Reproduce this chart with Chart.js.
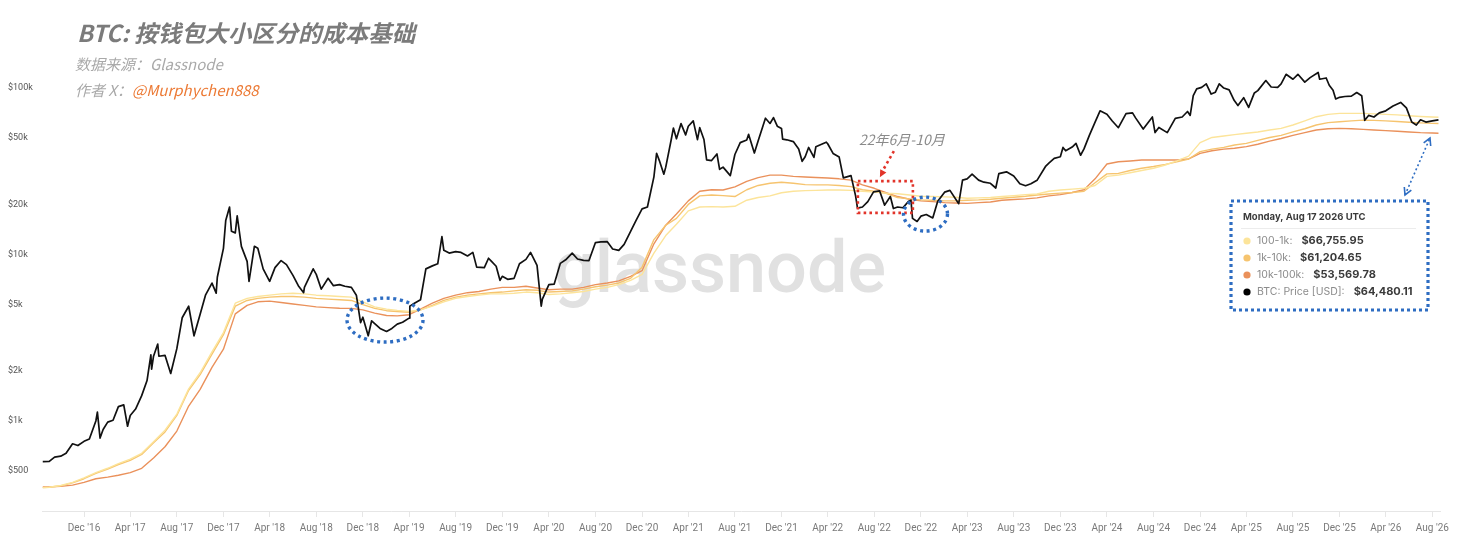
<!DOCTYPE html>
<html><head><meta charset="utf-8">
<script src="https://cdn.jsdelivr.net/npm/chart.js@4.4.1/dist/chart.umd.min.js"></script>
<style>html,body{margin:0;padding:0;background:#fff;overflow:hidden}</style>
</head><body>
<canvas id="c" width="1466" height="555"></canvas>
<script>
// ---------- DATA ----------
const btcDates = ['2016-08-15','2016-09-01','2016-09-15','2016-10-01','2016-10-15','2016-11-01','2016-11-15','2016-12-01','2016-12-15',
'2017-01-01','2017-01-05','2017-01-12','2017-01-20','2017-02-01','2017-02-15','2017-03-01','2017-03-15','2017-03-25','2017-04-01','2017-04-15','2017-05-01','2017-05-15','2017-05-25','2017-05-27','2017-06-01','2017-06-12','2017-06-15','2017-07-01','2017-07-16','2017-08-01','2017-08-15','2017-09-01','2017-09-15','2017-10-01','2017-10-15','2017-11-01','2017-11-12','2017-11-15','2017-12-01','2017-12-07','2017-12-17','2017-12-22',
'2018-01-01','2018-01-06','2018-01-17','2018-02-01','2018-02-06','2018-02-20','2018-03-01','2018-03-15','2018-04-01','2018-04-15','2018-05-01','2018-05-15','2018-06-01','2018-06-15','2018-06-29','2018-07-01','2018-07-24','2018-08-01','2018-08-14','2018-09-01','2018-09-15','2018-10-01','2018-10-15','2018-11-01','2018-11-14','2018-11-25','2018-12-01','2018-12-15','2018-12-24',
'2019-01-01','2019-01-15','2019-02-01','2019-02-15','2019-03-01','2019-03-15','2019-04-01','2019-04-03','2019-04-15','2019-05-01','2019-05-15','2019-06-01','2019-06-15','2019-06-26','2019-07-01','2019-07-15','2019-08-01','2019-08-15','2019-09-01','2019-09-15','2019-09-25','2019-10-15','2019-10-26','2019-11-01','2019-11-15','2019-11-25','2019-12-01','2019-12-15',
'2020-01-01','2020-01-15','2020-02-01','2020-02-13','2020-03-01','2020-03-12','2020-03-15','2020-04-01','2020-04-15','2020-05-01','2020-05-15','2020-06-01','2020-06-15','2020-07-01','2020-07-15','2020-08-01','2020-08-15','2020-09-01','2020-09-15','2020-10-01','2020-10-15','2020-11-01','2020-11-15','2020-12-01','2020-12-15',
'2021-01-01','2021-01-08','2021-01-15','2021-01-27','2021-02-01','2021-02-15','2021-02-21','2021-03-01','2021-03-13','2021-03-25','2021-04-01','2021-04-14','2021-04-25','2021-05-01','2021-05-12','2021-05-19','2021-06-01','2021-06-15','2021-06-22','2021-07-01','2021-07-20','2021-08-01','2021-08-15','2021-09-01','2021-09-06','2021-09-21','2021-10-01','2021-10-20','2021-11-01','2021-11-10','2021-11-20','2021-12-01','2021-12-04','2021-12-15',
'2022-01-01','2022-01-15','2022-01-24','2022-02-01','2022-02-10','2022-02-24','2022-03-01','2022-03-28','2022-04-01','2022-04-15','2022-05-01','2022-05-12','2022-06-01','2022-06-13','2022-06-18','2022-07-01','2022-07-15','2022-07-30','2022-08-15','2022-08-28','2022-09-12','2022-09-20','2022-10-01','2022-10-15','2022-10-29','2022-11-05','2022-11-09','2022-11-21','2022-12-01','2022-12-15',
'2023-01-01','2023-01-14','2023-02-01','2023-02-15','2023-03-10','2023-03-20','2023-04-01','2023-04-14','2023-05-01','2023-05-15','2023-06-01','2023-06-15','2023-06-23','2023-07-13','2023-08-01','2023-08-17','2023-09-01','2023-09-15','2023-10-01','2023-10-24','2023-11-01','2023-11-15','2023-12-01','2023-12-08','2023-12-15',
'2024-01-01','2024-01-11','2024-01-23','2024-02-01','2024-02-15','2024-03-01','2024-03-14','2024-04-01','2024-04-15','2024-05-01','2024-05-21','2024-06-07','2024-06-15','2024-07-05','2024-07-29','2024-08-05','2024-08-15','2024-09-06','2024-09-27','2024-10-15','2024-10-29','2024-11-05','2024-11-13','2024-11-22','2024-12-05','2024-12-17','2024-12-30',
'2025-01-10','2025-01-20','2025-02-01','2025-02-15','2025-02-28','2025-03-10','2025-03-25','2025-04-07','2025-04-22','2025-05-01','2025-05-22','2025-06-05','2025-06-22','2025-07-01','2025-07-14','2025-08-01','2025-08-14','2025-09-01','2025-09-15','2025-10-06','2025-10-10','2025-10-27','2025-11-04','2025-11-14','2025-11-21','2025-12-01','2025-12-15',
'2026-01-01','2026-01-15','2026-01-28','2026-02-05','2026-02-15','2026-03-01','2026-03-15','2026-04-01','2026-04-20','2026-05-10','2026-05-25','2026-06-08','2026-06-20','2026-07-01','2026-07-15','2026-08-01','2026-08-17'];
const btcPrice = [570,572,607,615,640,730,712,755,780,
1000,1130,790,890,985,1010,1220,1250,930,1080,1180,1420,1750,2500,2050,2450,2900,2450,2480,1930,2720,4170,4890,3250,4380,5700,6740,5860,7300,10900,16000,19300,13800,
13500,17100,11200,9100,6900,11200,10900,8200,6900,8350,9200,8700,7500,6500,5900,6350,8200,7600,6200,7200,6500,6600,6450,6350,5700,3900,4200,3250,4000,
3850,3600,3450,3600,3820,3920,4150,4900,5100,5350,8200,8550,8800,12800,10600,10200,10400,10300,9800,10300,8400,8350,9500,9200,8500,7000,7400,7100,
7200,8800,9350,10300,8600,4900,5400,6600,6650,8850,9300,10200,9400,9230,9200,11800,11900,11950,10800,10600,11500,13800,16000,18800,19300,
29300,40600,36800,30400,33500,48600,57500,49600,61200,52300,59000,63500,49000,57800,49100,37000,36700,40200,32500,33500,29800,39900,47000,48800,52700,40700,48200,65900,61300,66500,59000,57200,49300,48900,
47700,43100,36300,38700,44000,38300,44400,47300,46300,40500,38500,28900,29800,22500,19000,19300,20800,23800,24100,19800,22300,18900,19300,19100,20800,21200,16500,15800,17000,17400,
16600,20900,23700,24300,20200,28000,28500,30400,28000,27200,26800,25100,30600,31400,29600,26600,25900,26600,27900,34000,35400,37800,38700,44000,42000,
44200,46500,39500,43100,52000,62400,73000,69700,63400,57800,70200,71000,66200,56700,67000,54000,58000,54000,65800,67000,72300,68500,90000,98900,101000,106000,92000,
94500,106000,100000,97500,84400,78600,87500,76500,93500,96500,111000,101500,101000,106000,121000,113000,121000,108500,115500,124000,113000,115000,104000,97000,86000,88000,89000,
89500,94000,90000,64000,68500,67000,71000,73000,78000,82000,76000,62500,60000,64500,62500,63500,64480.11];

const cbDates = ['2016-08-15','2016-09','2016-10','2016-11','2016-12',
'2017-01','2017-02','2017-03','2017-04','2017-05','2017-06','2017-07','2017-08','2017-09','2017-10','2017-11','2017-12',
'2018-01','2018-02','2018-03','2018-04','2018-05','2018-06','2018-07','2018-08','2018-09','2018-10','2018-11','2018-12',
'2019-01','2019-02','2019-03','2019-04','2019-05','2019-06','2019-07','2019-08','2019-09','2019-10','2019-11','2019-12',
'2020-01','2020-02','2020-03','2020-04','2020-05','2020-06','2020-07','2020-08','2020-09','2020-10','2020-11','2020-12',
'2021-01','2021-02','2021-03','2021-04','2021-05','2021-06','2021-07','2021-08','2021-09','2021-10','2021-11','2021-12',
'2022-01','2022-02','2022-03','2022-04','2022-05','2022-06','2022-07','2022-08','2022-09','2022-10','2022-11','2022-12',
'2023-01','2023-02','2023-03','2023-04','2023-05','2023-06','2023-07','2023-08','2023-09','2023-10','2023-11','2023-12',
'2024-01','2024-02','2024-03','2024-04','2024-05','2024-06','2024-07','2024-08','2024-09','2024-10','2024-11','2024-12',
'2025-01','2025-02','2025-03','2025-04','2025-05','2025-06','2025-07','2025-08','2025-09','2025-10','2025-11','2025-12',
'2026-01','2026-02','2026-03','2026-04','2026-05','2026-06','2026-07','2026-08','2026-08-17'];
const cb100to1k = [398,400,410,428,455,
490,520,555,590,640,750,880,1100,1560,1950,2600,3400,
5100,5450,5600,5700,5800,5850,5800,5700,5650,5600,5550,5200,
4850,4700,4620,4550,4650,4900,5200,5450,5600,5700,5800,5800,
5850,5950,5900,5750,5800,5900,6000,6200,6350,6600,7000,7600,
10200,13000,15200,18300,19300,19400,19300,19500,21200,22000,22500,23500,
24000,24200,24300,24400,24400,24300,24000,23700,23400,23200,22800,22400,
22300,22200,22100,21800,21900,22000,22300,22600,22900,23100,24000,24400,
24700,25000,26000,29500,30000,31000,32000,33000,34500,36500,39000,47000,
50500,51500,52500,53500,54500,56000,57300,60000,63500,67300,69500,70500,
70500,70500,70000,69500,69000,68200,67500,67000,66755.95];
const cb1kto10k = [398,400,408,425,450,
485,515,548,580,630,740,860,1080,1530,1900,2520,3300,
4900,5300,5450,5550,5600,5600,5550,5450,5400,5350,5300,5000,
4750,4600,4550,4500,4650,4950,5300,5550,5700,5800,5900,5950,
6050,6150,6100,5950,6000,6050,6200,6400,6550,6750,7200,8400,
12300,15000,16500,20000,22500,22800,22600,22300,24500,26000,26800,27200,
26800,26300,26200,26200,26000,25600,24500,24000,23300,22000,21600,21300,
21200,21000,21000,21200,21300,21500,21800,22100,22400,22800,23100,23400,
23600,24000,27000,30500,30700,32000,33000,33800,34800,36000,37500,41500,
43000,44000,45500,46500,48500,50500,52000,54500,57000,60000,62000,62800,
63500,64200,64000,63500,63000,62300,61800,61400,61204.65];
const cb10kto100k = [402,402,405,412,428,
450,460,472,490,520,600,700,870,1230,1550,2100,2700,
4400,4950,5200,5250,5150,5050,4950,4850,4800,4760,4750,4650,
4450,4300,4280,4350,4700,5100,5450,5700,5900,6000,6200,6350,
6350,6450,6300,6150,6200,6200,6350,6600,6750,6950,7400,8000,
11600,15000,17500,21000,24000,24500,24400,25500,27500,29000,30000,30000,
29500,29200,29000,28800,28500,28000,26200,25000,23500,22300,21500,21000,
20800,20500,20400,20300,20500,20700,21200,21400,21600,21900,22500,22900,
23600,24500,28500,35000,36100,36500,37000,37000,37000,37000,37500,40500,
42000,43000,43500,44500,46000,48000,49800,52000,54000,56000,57000,57300,
57000,56500,56000,55500,55000,54500,54000,53700,53569.78];

const seriesLabels = ['BTC: Price [USD]','100-1k','1k-10k','10k-100k'];
const xTicks = ['2016-12','2017-04','2017-08','2017-12','2018-04','2018-08','2018-12','2019-04','2019-08','2019-12','2020-04','2020-08','2020-12','2021-04','2021-08','2021-12','2022-04','2022-08','2022-12','2023-04','2023-08','2023-12','2024-04','2024-08','2024-12','2025-04','2025-08','2025-12','2026-04','2026-08'];
const monthNames = ['Jan','Feb','Mar','Apr','May','Jun','Jul','Aug','Sep','Oct','Nov','Dec'];
const dayNames = ['Sunday','Monday','Tuesday','Wednesday','Thursday','Friday','Saturday'];
const yTicks = [500,1000,2000,5000,10000,20000,50000,100000];
const yTickLabels = ['$500','$1k','$2k','$5k','$10k','$20k','$50k','$100k'];

// ---------- HELPERS ----------
function D(s){ if(s.length===7) s+='-01'; const p=s.split('-').map(Number); return Date.UTC(p[0],p[1]-1,p[2])/864e5; }
const pts = (dates, vals) => dates.map((d,i)=>({x:D(d), y:vals[i]}));
const colors = {btc:'#111111', l:'#fce49a', m:'#f6c46f', o:'#ea915b'};
const fmt = v => '$' + v.toLocaleString('en-US',{minimumFractionDigits:2, maximumFractionDigits:2});

const decor = {
  id:'decor',
  beforeDatasetsDraw(chart){
    const ctx = chart.ctx;
    ctx.save();
    ctx.font = '500 72px Roboto';
    ctx.fillStyle = '#e1e1e1';
    ctx.textAlign = 'center'; ctx.textBaseline = 'alphabetic';
    ctx.fillText('glassnode', 720, 292);
    ctx.restore();
  },
  afterDraw(chart){
    const ctx = chart.ctx, xs = chart.scales.x, ys = chart.scales.y, ca = chart.chartArea;
    const px = d => xs.getPixelForValue(D(d)), py = v => ys.getPixelForValue(v);
    ctx.save();
    // titles
    ctx.textBaseline = 'middle'; ctx.textAlign = 'left';
    ctx.font = 'italic bold 23.4px "Noto Sans CJK SC"';
    ctx.fillStyle = '#7b7b7b';
    ctx.fillText('BTC: 按钱包大小区分的成本基础', 77, 33);
    ctx.font = 'italic 15px "Noto Sans CJK SC"';
    ctx.fillStyle = '#a9a9a9';
    ctx.fillText('数据来源：Glassnode', 75, 64);
    const a1 = '作者 X：';
    ctx.fillText(a1, 75, 90);
    const w1 = ctx.measureText(a1).width;
    ctx.fillStyle = '#ec7a35';
    ctx.fillText('@Murphychen888', 75 + w1, 90);

    // red dotted rectangle (Jun-Oct 2022)
    const rx1 = px('2022-06-19'), rx2 = px('2022-11-10'), ry1 = py(27600), ry2 = py(17800);
    ctx.strokeStyle = '#e2342a'; ctx.lineWidth = 2.6; ctx.setLineDash([2.6,3.2]);
    ctx.strokeRect(rx1, ry1, rx2-rx1, ry2-ry1);
    // red arrow
    const ax1 = rx1 + 36, ay1 = ry1 - 30, ax2 = rx1 + 22, ay2 = ry1 - 4;
    ctx.beginPath(); ctx.moveTo(ax1, ay1); ctx.lineTo(ax2 + 2, ay2 - 5); ctx.stroke();
    ctx.setLineDash([]);
    const ang = Math.atan2(ay2-ay1, ax2-ax1);
    ctx.fillStyle = '#e2342a';
    ctx.beginPath(); ctx.moveTo(ax2, ay2);
    ctx.lineTo(ax2 - 8*Math.cos(ang-0.45), ay2 - 8*Math.sin(ang-0.45));
    ctx.lineTo(ax2 - 8*Math.cos(ang+0.45), ay2 - 8*Math.sin(ang+0.45));
    ctx.closePath(); ctx.fill();
    // red annotation text
    ctx.font = 'italic 14px "Noto Sans CJK SC"'; ctx.fillStyle = '#8a8a8a'; ctx.textAlign = 'center';
    ctx.fillText('22年6月-10月', rx1 + 44, ry1 - 41);

    // blue dotted ellipses
    ctx.strokeStyle = '#2e6dc2'; ctx.lineWidth = 3.4; ctx.setLineDash([3,3.6]);
    ctx.beginPath(); ctx.ellipse(px('2019-01-28'), py(4040), 38, 22, 0, 0, Math.PI*2); ctx.stroke();
    ctx.beginPath(); ctx.ellipse(px('2022-12-13'), py(17500), 22, 17, 0, 0, Math.PI*2); ctx.stroke();

    // tooltip box
    const bx = ca.right - 209, by = ca.top + 146, bw = 197, bh = 109;
    ctx.setLineDash([]);
    ctx.fillStyle = '#ffffff'; ctx.fillRect(bx, by, bw, bh);
    ctx.strokeStyle = '#2e6dc2'; ctx.lineWidth = 3.2; ctx.setLineDash([3,3]);
    ctx.strokeRect(bx, by, bw, bh);
    // blue dotted double arrow
    const dx1 = bx + 174, dy1 = by - 6, dx2 = bx + 199, dy2 = by - 63;
    ctx.lineWidth = 1.6; ctx.setLineDash([2,2.5]);
    ctx.beginPath(); ctx.moveTo(dx1, dy1); ctx.lineTo(dx2, dy2); ctx.stroke();
    ctx.setLineDash([]); ctx.lineWidth = 1.6;
    const ba = Math.atan2(dy2-dy1, dx2-dx1);
    [[dx2,dy2,ba],[dx1,dy1,ba+Math.PI]].forEach(([hx,hy,an])=>{
      ctx.beginPath();
      ctx.moveTo(hx - 8*Math.cos(an-0.5), hy - 8*Math.sin(an-0.5));
      ctx.lineTo(hx, hy);
      ctx.lineTo(hx - 8*Math.cos(an+0.5), hy - 8*Math.sin(an+0.5));
      ctx.stroke();
    });
    // tooltip content
    const last = btcDates[btcDates.length-1].split('-').map(Number);
    const ld = new Date(Date.UTC(last[0], last[1]-1, last[2]));
    const header = dayNames[ld.getUTCDay()] + ', ' + monthNames[ld.getUTCMonth()] + ' ' + ld.getUTCDate() + ' ' + ld.getUTCFullYear() + ' UTC';
    ctx.textAlign = 'left'; ctx.textBaseline = 'middle';
    ctx.font = 'bold 9.5px Inter'; ctx.fillStyle = '#3a3a3a';
    ctx.fillText(header, bx + 12, by + 16);
    ctx.strokeStyle = '#ececec'; ctx.lineWidth = 1;
    ctx.beginPath(); ctx.moveTo(bx + 10, by + 27.5); ctx.lineTo(bx + bw - 12, by + 27.5); ctx.stroke();
    const rows = [
      [seriesLabels[1] + ':', cb100to1k[cb100to1k.length-1], colors.l],
      [seriesLabels[2] + ':', cb1kto10k[cb1kto10k.length-1], colors.m],
      [seriesLabels[3] + ':', cb10kto100k[cb10kto100k.length-1], colors.o],
      [seriesLabels[0] + ':', btcPrice[btcPrice.length-1], '#000000']
    ];
    rows.forEach((r,i)=>{
      const ry = by + 40 + i*17;
      ctx.fillStyle = r[2]; ctx.beginPath(); ctx.arc(bx + 16, ry, 3.6, 0, Math.PI*2); ctx.fill();
      ctx.font = '10.5px Inter'; ctx.fillStyle = '#8c8c8c';
      ctx.fillText(r[0], bx + 26, ry);
      const lw = ctx.measureText(r[0]).width;
      ctx.font = 'bold 11px Inter'; ctx.fillStyle = '#3a3a3a';
      ctx.fillText(fmt(r[1]), bx + 26 + lw + 9, ry);
    });
    ctx.restore();
  }
};

new Chart(document.getElementById('c'), {
  type:'line',
  data:{datasets:[
    {label:seriesLabels[0], data:pts(btcDates, btcPrice), borderColor:colors.btc, borderWidth:1.7},
    {label:seriesLabels[1], data:pts(cbDates, cb100to1k), borderColor:colors.l, borderWidth:1.4},
    {label:seriesLabels[2], data:pts(cbDates, cb1kto10k), borderColor:colors.m, borderWidth:1.4},
    {label:seriesLabels[3], data:pts(cbDates, cb10kto100k), borderColor:colors.o, borderWidth:1.4}
  ]},
  options:{
    responsive:false, animation:false,
    parsing:false,
    elements:{point:{radius:0}, line:{tension:0, borderJoinStyle:'round'}},
    layout:{padding:{left:8, right:26, top:55, bottom:0}},
    plugins:{legend:{display:false}, tooltip:{enabled:false}},
    scales:{
      x:{type:'linear', min:D('2016-08-13'), max:D('2026-08-21'),
        afterBuildTicks: s => { s.ticks = xTicks.map(t => ({value:D(t)})); },
        afterFit: s => { s.height = 44; },
        ticks:{autoSkip:false, maxRotation:0, padding:5, color:'#7a7a7a', font:{family:'Roboto', size:10},
          callback: v => { const d = new Date(v*864e5); return monthNames[d.getUTCMonth()] + " '" + String(d.getUTCFullYear()).slice(2); }},
        grid:{drawOnChartArea:false, drawTicks:true, tickLength:6, color:'#e6e6e6'},
        border:{display:true, color:'#e6e6e6'}
      },
      y:{type:'logarithmic', min:288, max:158000,
        afterBuildTicks: s => { s.ticks = yTicks.map(v => ({value:v})); },
        afterFit: s => { s.width = 34; },
        ticks:{crossAlign:'far', padding:0, color:'#555', font:{family:'Roboto', size:9},
          callback: v => { const i = yTicks.indexOf(v); return i >= 0 ? yTickLabels[i] : ''; }},
        grid:{display:false}, border:{display:false}
      }
    }
  },
  plugins:[decor]
});
</script>
</body></html>
